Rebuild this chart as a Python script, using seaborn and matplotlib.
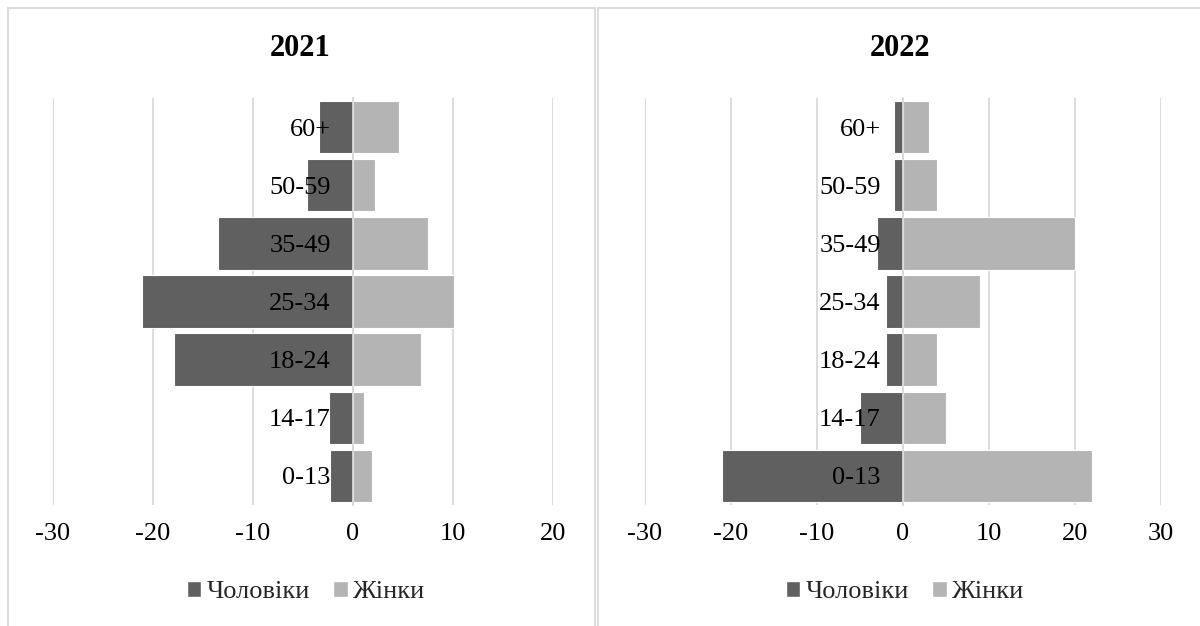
import matplotlib
matplotlib.use("Agg")
import matplotlib.pyplot as plt
import seaborn as sns
import pandas as pd
from matplotlib.patches import Patch, Rectangle

# age groups, top to bottom as in the chart
ages = ['60+', '50-59', '35-49', '25-34', '18-24', '14-17', '0-13']

# 2021, percent
men_2021 = [-3.4, -4.6, -13.5, -21.1, -17.9, -2.4, -2.3]
women_2021 = [4.6, 2.2, 7.5, 10.1, 6.8, 1.1, 1.9]

# 2022, percent
men_2022 = [-1, -1, -3, -2, -2, -5, -21]
women_2022 = [3, 4, 20, 9, 4, 5, 22]

years = ['2021', '2022']
x_ticks = {'2021': [-30, -20, -10, 0, 10, 20], '2022': [-30, -20, -10, 0, 10, 20, 30]}

dark = '#606060'
light = '#b4b4b4'
grid_col = '#d9d9d9'

sns.set_style('white')
plt.rcParams['font.family'] = ['Liberation Serif', 'DejaVu Serif']
plt.rcParams['axes.unicode_minus'] = False

W, H = 1200, 626
fig = plt.figure(figsize=(12, 6.26), dpi=100)


def px_axes(left, top, right, bottom):
    return fig.add_axes([left / W, 1 - bottom / H, (right - left) / W, (bottom - top) / H])


def draw_panel(ax, year, men, women):
    df = pd.DataFrame({'age': ages, 'men': men, 'women': women})
    sns.barplot(data=df, x='men', y='age', color=dark, width=0.9,
                edgecolor='white', linewidth=0.8, ax=ax, saturation=1)
    sns.barplot(data=df, x='women', y='age', color=light, width=0.9,
                edgecolor='white', linewidth=0.8, ax=ax, saturation=1)
    ticks = x_ticks[year]
    ax.set_xlim(ticks[0], ticks[-1])
    ax.set_ylim(len(ages) - 0.5, -0.5)
    ax.set_xticks(ticks)
    ax.set_xticklabels([str(t) for t in ticks])
    ax.set_xlabel('')
    ax.set_ylabel('')
    ax.set_axisbelow(True)
    ax.xaxis.grid(True, color=grid_col, linewidth=1.3)
    ax.yaxis.grid(False)
    for s in ['top', 'right', 'bottom']:
        ax.spines[s].set_visible(False)
    ax.spines['left'].set_position(('data', 0))
    ax.spines['left'].set_color(grid_col)
    ax.spines['left'].set_linewidth(1.3)
    ax.spines['left'].set_zorder(3)
    ax.yaxis.set_zorder(5)
    ax.tick_params(axis='y', length=0, pad=16, labelsize=19, colors='black')
    ax.tick_params(axis='x', length=0, pad=13, labelsize=19, colors='black')


ax1 = px_axes(53, 98, 553, 505)
draw_panel(ax1, '2021', men_2021, women_2021)
ax2 = px_axes(645, 98, 1161, 505)
draw_panel(ax2, '2022', men_2022, women_2022)

# panel titles
fig.text(300 / W, 1 - 48 / H, years[0], ha='center', va='center', fontsize=22,
         fontweight='bold', color='black')
fig.text(900 / W, 1 - 48 / H, years[1], ha='center', va='center', fontsize=22,
         fontweight='bold', color='black')

# legends
handles = [Patch(facecolor=dark, label='Чоловіки'), Patch(facecolor=light, label='Жінки')]
for cx in [306, 905]:
    fig.legend(handles=handles, loc='center', bbox_to_anchor=(cx / W, 1 - 592 / H),
               ncol=2, frameon=False, fontsize=19, handlelength=0.55, handleheight=0.55,
               handletextpad=0.2, columnspacing=0.9, borderaxespad=0, borderpad=0)

# chart area borders
fig.add_artist(Rectangle((7.5 / W, -0.1), (595 - 7.5) / W, 1.1 - 8 / H,
                         transform=fig.transFigure, fill=False, edgecolor=grid_col, linewidth=1.3))
fig.add_artist(Rectangle((598 / W, -0.1), 0.6, 1.1 - 8 / H,
                         transform=fig.transFigure, fill=False, edgecolor=grid_col, linewidth=1.3))

fig.savefig('out.png', dpi=100, facecolor='white')
